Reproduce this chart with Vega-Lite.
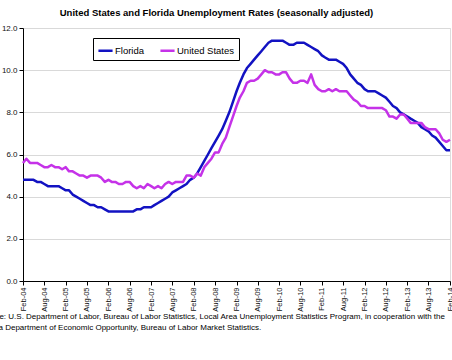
{
"$schema":"https://vega.github.io/schema/vega-lite/v6.json",
"width":427,"height":253,
"autosize":{"type":"none"},
"padding":{"left":23,"top":28,"right":2,"bottom":79},
"background":"white",
"title":{"text":"United States and Florida Unemployment Rates (seasonally adjusted)","font":"Liberation Sans","fontSize":9.5,"fontWeight":"bold","color":"#000","anchor":"middle","dx":-20,"offset":7},
"data":{"values":[
{"d":"2004-02-01","Florida":4.8,"United States":5.6},
{"d":"2004-03-01","Florida":4.8,"United States":5.8},
{"d":"2004-04-01","Florida":4.8,"United States":5.6},
{"d":"2004-05-01","Florida":4.8,"United States":5.6},
{"d":"2004-06-01","Florida":4.7,"United States":5.6},
{"d":"2004-07-01","Florida":4.7,"United States":5.5},
{"d":"2004-08-01","Florida":4.6,"United States":5.4},
{"d":"2004-09-01","Florida":4.5,"United States":5.4},
{"d":"2004-10-01","Florida":4.5,"United States":5.5},
{"d":"2004-11-01","Florida":4.5,"United States":5.4},
{"d":"2004-12-01","Florida":4.5,"United States":5.4},
{"d":"2005-01-01","Florida":4.4,"United States":5.3},
{"d":"2005-02-01","Florida":4.3,"United States":5.4},
{"d":"2005-03-01","Florida":4.3,"United States":5.2},
{"d":"2005-04-01","Florida":4.1,"United States":5.2},
{"d":"2005-05-01","Florida":4.0,"United States":5.1},
{"d":"2005-06-01","Florida":3.9,"United States":5.0},
{"d":"2005-07-01","Florida":3.8,"United States":5.0},
{"d":"2005-08-01","Florida":3.7,"United States":4.9},
{"d":"2005-09-01","Florida":3.6,"United States":5.0},
{"d":"2005-10-01","Florida":3.6,"United States":5.0},
{"d":"2005-11-01","Florida":3.5,"United States":5.0},
{"d":"2005-12-01","Florida":3.5,"United States":4.9},
{"d":"2006-01-01","Florida":3.4,"United States":4.7},
{"d":"2006-02-01","Florida":3.3,"United States":4.8},
{"d":"2006-03-01","Florida":3.3,"United States":4.7},
{"d":"2006-04-01","Florida":3.3,"United States":4.7},
{"d":"2006-05-01","Florida":3.3,"United States":4.6},
{"d":"2006-06-01","Florida":3.3,"United States":4.6},
{"d":"2006-07-01","Florida":3.3,"United States":4.7},
{"d":"2006-08-01","Florida":3.3,"United States":4.7},
{"d":"2006-09-01","Florida":3.3,"United States":4.5},
{"d":"2006-10-01","Florida":3.4,"United States":4.4},
{"d":"2006-11-01","Florida":3.4,"United States":4.5},
{"d":"2006-12-01","Florida":3.5,"United States":4.4},
{"d":"2007-01-01","Florida":3.5,"United States":4.6},
{"d":"2007-02-01","Florida":3.5,"United States":4.5},
{"d":"2007-03-01","Florida":3.6,"United States":4.4},
{"d":"2007-04-01","Florida":3.7,"United States":4.5},
{"d":"2007-05-01","Florida":3.8,"United States":4.4},
{"d":"2007-06-01","Florida":3.9,"United States":4.6},
{"d":"2007-07-01","Florida":4.0,"United States":4.7},
{"d":"2007-08-01","Florida":4.2,"United States":4.6},
{"d":"2007-09-01","Florida":4.3,"United States":4.7},
{"d":"2007-10-01","Florida":4.4,"United States":4.7},
{"d":"2007-11-01","Florida":4.5,"United States":4.7},
{"d":"2007-12-01","Florida":4.6,"United States":5.0},
{"d":"2008-01-01","Florida":4.8,"United States":5.0},
{"d":"2008-02-01","Florida":4.9,"United States":4.9},
{"d":"2008-03-01","Florida":5.1,"United States":5.1},
{"d":"2008-04-01","Florida":5.4,"United States":5.0},
{"d":"2008-05-01","Florida":5.7,"United States":5.4},
{"d":"2008-06-01","Florida":6.0,"United States":5.6},
{"d":"2008-07-01","Florida":6.3,"United States":5.8},
{"d":"2008-08-01","Florida":6.6,"United States":6.1},
{"d":"2008-09-01","Florida":6.9,"United States":6.1},
{"d":"2008-10-01","Florida":7.2,"United States":6.5},
{"d":"2008-11-01","Florida":7.6,"United States":6.8},
{"d":"2008-12-01","Florida":8.0,"United States":7.3},
{"d":"2009-01-01","Florida":8.5,"United States":7.8},
{"d":"2009-02-01","Florida":9.0,"United States":8.3},
{"d":"2009-03-01","Florida":9.4,"United States":8.7},
{"d":"2009-04-01","Florida":9.8,"United States":9.0},
{"d":"2009-05-01","Florida":10.1,"United States":9.4},
{"d":"2009-06-01","Florida":10.3,"United States":9.5},
{"d":"2009-07-01","Florida":10.5,"United States":9.5},
{"d":"2009-08-01","Florida":10.7,"United States":9.6},
{"d":"2009-09-01","Florida":10.9,"United States":9.8},
{"d":"2009-10-01","Florida":11.1,"United States":10.0},
{"d":"2009-11-01","Florida":11.3,"United States":9.9},
{"d":"2009-12-01","Florida":11.4,"United States":9.9},
{"d":"2010-01-01","Florida":11.4,"United States":9.8},
{"d":"2010-02-01","Florida":11.4,"United States":9.8},
{"d":"2010-03-01","Florida":11.4,"United States":9.9},
{"d":"2010-04-01","Florida":11.3,"United States":9.9},
{"d":"2010-05-01","Florida":11.2,"United States":9.6},
{"d":"2010-06-01","Florida":11.2,"United States":9.4},
{"d":"2010-07-01","Florida":11.3,"United States":9.4},
{"d":"2010-08-01","Florida":11.3,"United States":9.5},
{"d":"2010-09-01","Florida":11.3,"United States":9.5},
{"d":"2010-10-01","Florida":11.2,"United States":9.4},
{"d":"2010-11-01","Florida":11.1,"United States":9.8},
{"d":"2010-12-01","Florida":11.0,"United States":9.3},
{"d":"2011-01-01","Florida":10.9,"United States":9.1},
{"d":"2011-02-01","Florida":10.7,"United States":9.0},
{"d":"2011-03-01","Florida":10.6,"United States":9.0},
{"d":"2011-04-01","Florida":10.5,"United States":9.1},
{"d":"2011-05-01","Florida":10.5,"United States":9.0},
{"d":"2011-06-01","Florida":10.5,"United States":9.1},
{"d":"2011-07-01","Florida":10.4,"United States":9.0},
{"d":"2011-08-01","Florida":10.3,"United States":9.0},
{"d":"2011-09-01","Florida":10.1,"United States":9.0},
{"d":"2011-10-01","Florida":9.8,"United States":8.8},
{"d":"2011-11-01","Florida":9.6,"United States":8.6},
{"d":"2011-12-01","Florida":9.4,"United States":8.5},
{"d":"2012-01-01","Florida":9.3,"United States":8.3},
{"d":"2012-02-01","Florida":9.1,"United States":8.3},
{"d":"2012-03-01","Florida":9.0,"United States":8.2},
{"d":"2012-04-01","Florida":9.0,"United States":8.2},
{"d":"2012-05-01","Florida":9.0,"United States":8.2},
{"d":"2012-06-01","Florida":8.9,"United States":8.2},
{"d":"2012-07-01","Florida":8.8,"United States":8.2},
{"d":"2012-08-01","Florida":8.7,"United States":8.1},
{"d":"2012-09-01","Florida":8.5,"United States":7.8},
{"d":"2012-10-01","Florida":8.3,"United States":7.8},
{"d":"2012-11-01","Florida":8.2,"United States":7.7},
{"d":"2012-12-01","Florida":8.0,"United States":7.9},
{"d":"2013-01-01","Florida":7.9,"United States":7.9},
{"d":"2013-02-01","Florida":7.8,"United States":7.7},
{"d":"2013-03-01","Florida":7.7,"United States":7.5},
{"d":"2013-04-01","Florida":7.6,"United States":7.5},
{"d":"2013-05-01","Florida":7.5,"United States":7.5},
{"d":"2013-06-01","Florida":7.3,"United States":7.5},
{"d":"2013-07-01","Florida":7.2,"United States":7.3},
{"d":"2013-08-01","Florida":7.1,"United States":7.2},
{"d":"2013-09-01","Florida":6.9,"United States":7.2},
{"d":"2013-10-01","Florida":6.8,"United States":7.2},
{"d":"2013-11-01","Florida":6.6,"United States":7.0},
{"d":"2013-12-01","Florida":6.4,"United States":6.7},
{"d":"2014-01-01","Florida":6.2,"United States":6.6},
{"d":"2014-02-01","Florida":6.2,"United States":6.7}
]},
"transform":[{"fold":["Florida","United States"],"as":["series","rate"]}],
"mark":{"type":"line","strokeWidth":2.5,"strokeJoin":"round","clip":false},
"encoding":{
"x":{"field":"d","type":"temporal",
"scale":{"type":"utc","domain":[{"year":2004,"month":2,"date":1,"utc":true},{"year":2014,"month":2,"date":1,"utc":true}]},
"axis":{"values":[
{"year":2004,"month":2,"date":1,"utc":true},{"year":2004,"month":8,"date":1,"utc":true},
{"year":2005,"month":2,"date":1,"utc":true},{"year":2005,"month":8,"date":1,"utc":true},
{"year":2006,"month":2,"date":1,"utc":true},{"year":2006,"month":8,"date":1,"utc":true},
{"year":2007,"month":2,"date":1,"utc":true},{"year":2007,"month":8,"date":1,"utc":true},
{"year":2008,"month":2,"date":1,"utc":true},{"year":2008,"month":8,"date":1,"utc":true},
{"year":2009,"month":2,"date":1,"utc":true},{"year":2009,"month":8,"date":1,"utc":true},
{"year":2010,"month":2,"date":1,"utc":true},{"year":2010,"month":8,"date":1,"utc":true},
{"year":2011,"month":2,"date":1,"utc":true},{"year":2011,"month":8,"date":1,"utc":true},
{"year":2012,"month":2,"date":1,"utc":true},{"year":2012,"month":8,"date":1,"utc":true},
{"year":2013,"month":2,"date":1,"utc":true},{"year":2013,"month":8,"date":1,"utc":true},
{"year":2014,"month":2,"date":1,"utc":true}],
"format":"%b-%y","labelAngle":270,"labelFont":"Liberation Sans","labelFontSize":7.5,"labelColor":"#111","labelPadding":2,"labelOverlap":false,"labelFlush":false,
"grid":false,"tickSize":4,"tickColor":"#000","domainColor":"#000","domainWidth":1,
"title":["Source:  U.S. Department of Labor, Bureau of Labor Statistics, Local Area Unemployment Statistics Program, in cooperation with the","Florida Department of Economic Opportunity, Bureau of Labor Market Statistics."],
"titleFont":"Liberation Sans","titleFontSize":8,"titleFontWeight":"normal","titleColor":"#000","titleAnchor":"start","titleAlign":"left","titleBaseline":"top","titleX":-45,"titleY":31,"titleLineHeight":11}},
"y":{"field":"rate","type":"quantitative","scale":{"domain":[0,12]},
"axis":{"values":[0,2,4,6,8,10,12],"format":".1f","title":null,"labelFont":"Liberation Sans","labelFontSize":8,"labelColor":"#111","labelPadding":2,
"tickSize":4,"tickColor":"#000","domainColor":"#000","domainWidth":1,"gridColor":"#d9d9d9","gridWidth":1}},
"color":{"field":"series","type":"nominal",
"scale":{"domain":["Florida","United States"],"range":["#1212C2","#C532E8"]},
"legend":{"title":null,"orient":"none","legendX":70,"legendY":10,"direction":"horizontal","symbolType":"stroke","symbolSize":200,"symbolStrokeWidth":2.5,"labelFont":"Liberation Sans","labelFontSize":9.5,"labelColor":"#000","labelOffset":1,"columnPadding":10,"padding":4,"strokeColor":"#000","fillColor":"#fff","cornerRadius":0}}
}
}
